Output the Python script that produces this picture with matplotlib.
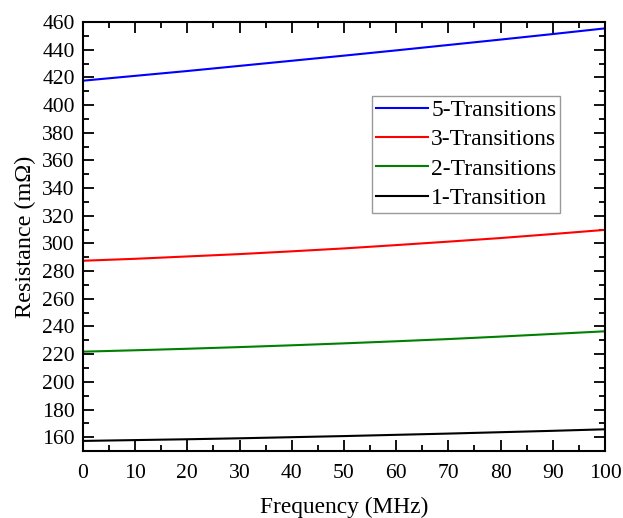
import matplotlib
matplotlib.use("Agg")
import matplotlib.pyplot as plt
from matplotlib.ticker import MultipleLocator

freq = [0, 10, 20, 30, 40, 50, 60, 70, 80, 90, 100]
r5 = [417.6, 421.1, 424.6, 428.3, 432.0, 435.7, 439.5, 443.4, 447.3, 451.3, 455.4]
r3 = [287.5, 288.9, 290.6, 292.3, 294.3, 296.4, 298.8, 301.3, 303.9, 306.8, 309.8]
r2 = [221.8, 222.8, 223.9, 225.1, 226.4, 227.8, 229.3, 230.9, 232.7, 234.6, 236.5]
r1 = [157.3, 157.9, 158.5, 159.2, 160.0, 160.8, 161.7, 162.6, 163.6, 164.6, 165.7]
labels = ["5-Transitions", "3-Transitions", "2-Transitions", "1-Transition"]
colors = ["#0000ff", "#ff0000", "#008000", "#000000"]

plt.rcParams['font.family'] = ['Liberation Serif', 'DejaVu Serif']
plt.rcParams['mathtext.fontset'] = 'stix'

fig = plt.figure(figsize=(6.23, 5.18), dpi=100)
ax = fig.add_axes([0.1332, 0.1293, 0.8378, 0.8282])

for y, lab, c in zip([r5, r3, r2, r1], labels, colors):
    ax.plot(freq, y, color=c, lw=1.5, label=lab)

ax.set_xlim(0, 100)
ax.set_ylim(150, 460)
ax.xaxis.set_major_locator(MultipleLocator(10))
ax.xaxis.set_minor_locator(MultipleLocator(5))
ax.yaxis.set_major_locator(MultipleLocator(20))
ax.yaxis.set_minor_locator(MultipleLocator(10))
ax.tick_params(which='both', direction='in', top=True, right=True, width=1.3, labelsize=15.6)
ax.tick_params(axis='x', pad=9)
ax.tick_params(axis='y', pad=6)
ax.tick_params(which='major', length=8)
ax.tick_params(which='minor', length=4.5)
for s in ax.spines.values():
    s.set_linewidth(1.5)

ax.set_xlabel("Frequency (MHz)", fontsize=16.8, labelpad=10.5)
ax.set_ylabel("Resistance (m\u03a9)", fontsize=17.4, labelpad=4)

leg = ax.legend(loc='upper left', bbox_to_anchor=(0.554, 0.8275), borderaxespad=0,
                fontsize=17, frameon=True, fancybox=False, handlelength=2.2,
                handletextpad=0.15, labelspacing=0.33, borderpad=0.15)
leg.get_frame().set_edgecolor('#808080')
leg.get_frame().set_linewidth(1.0)

fig.savefig("out.png", dpi=100)
